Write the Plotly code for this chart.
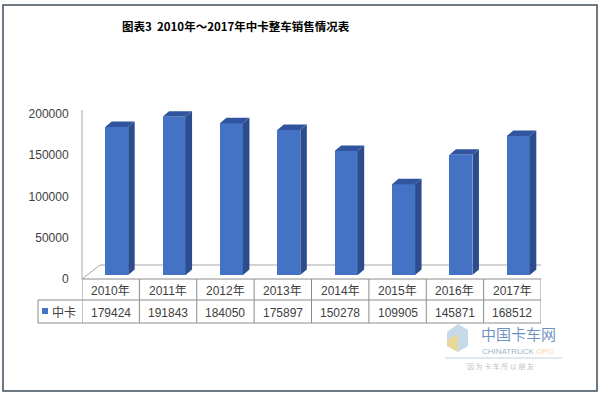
import plotly.graph_objects as go

# ---- data ----
years = ["2010年", "2011年", "2012年", "2013年", "2014年", "2015年", "2016年", "2017年"]
sales = [179424, 191843, 184050, 175897, 150278, 109905, 145871, 168512]
series_name = "中卡"
y_ticks = [0, 50000, 100000, 150000, 200000]
title_text = "图表3&nbsp;&nbsp;2010年～2017年中卡整车销售情况表"

# ---- geometry (pixels of the 600x395 canvas) ----
W, H = 600, 395
PL, PR, PT, PB = 82, 541, 100, 279          # plot area
n = len(years)
cat_px = (PR - PL) / n
ypx_per_unit = 0.000825
y_max = (PB - PT) / ypx_per_unit


def px(x):
    return (x - PL) / (PR - PL)


def py(y):
    return (PB - y) / (PB - PT)


FRONT = "#4472C4"
SIDE = "#2B4C8D"
TOP = "#30559E"
TXT = "#404040"
GRID = "#A6A6A6"
FONT = "Liberation Sans, Noto Sans CJK SC, sans-serif"
CJK = "Noto Sans CJK SC, sans-serif"

idx = list(range(n))
base_off = 4 / ypx_per_unit          # front face sits slightly above the floor edge
bar_w = 23 / cat_px
bar_off = 6 / cat_px - bar_w / 2     # perspective shift of the front face
dx = 6.5 / cat_px
dy = 5.5 / ypx_per_unit

fig = go.Figure()

# side faces and top faces built from values
sx, sy, tx, ty = [], [], [], []
for i, v in zip(idx, sales):
    xl = i + bar_off
    xr = xl + bar_w
    b = base_off
    t = base_off + v
    sx += [xr, xr + dx, xr + dx, xr, xr, None]
    sy += [b, b + dy, t + dy, t, b, None]
    tx += [xl, xl + dx, xr + dx, xr, xl, None]
    ty += [t, t + dy, t + dy, t, t, None]

fig.add_trace(go.Scatter(x=sx, y=sy, mode="lines", fill="toself", fillcolor=SIDE,
                         line=dict(width=0, color=SIDE), hoverinfo="skip", showlegend=False))
fig.add_trace(go.Scatter(x=tx, y=ty, mode="lines", fill="toself", fillcolor=TOP,
                         line=dict(width=0, color=TOP), hoverinfo="skip", showlegend=False))
fig.add_trace(go.Bar(x=idx, y=sales, base=[base_off] * n, width=bar_w, offset=bar_off,
                     marker=dict(color=FRONT, line=dict(width=0)), name=series_name,
                     showlegend=False))

shapes = []
# floor (3D base)
bdx = 18 / cat_px
bdx_r = 21 / cat_px
bdy = 14 / ypx_per_unit
shapes.append(dict(type="line", xref="x", yref="y", x0=-0.5, y0=0, x1=-0.5 + bdx, y1=bdy,
                   line=dict(color=GRID, width=1), layer="below"))
shapes.append(dict(type="line", xref="x", yref="y", x0=-0.5 + bdx, y0=bdy, x1=n - 0.5 + bdx_r, y1=bdy,
                   line=dict(color=GRID, width=1), layer="below"))
shapes.append(dict(type="line", xref="x", yref="y", x0=n - 0.5 + bdx_r, y0=bdy, x1=n - 0.5, y1=0,
                   line=dict(color=GRID, width=1), layer="below"))
# vertical axis line
shapes.append(dict(type="line", xref="paper", yref="y", x0=0, x1=0, y0=0, y1=y_ticks[-1] + 4 / ypx_per_unit,
                   line=dict(color=GRID, width=1)))

# data table
TBL = "#8C8C8C"
r0, r1, r2 = 279, 300, 323
shapes.append(dict(type="line", xref="paper", yref="paper", x0=px(PL), x1=px(PR), y0=py(r0), y1=py(r0),
                   line=dict(color=TBL, width=1)))
for yy in (r1, r2):
    shapes.append(dict(type="line", xref="paper", yref="paper", x0=px(38), x1=px(PR), y0=py(yy), y1=py(yy),
                       line=dict(color=TBL, width=1)))
for i in range(n + 1):
    shapes.append(dict(type="line", xref="x", yref="paper", x0=i - 0.5, x1=i - 0.5, y0=py(r0), y1=py(r2),
                       line=dict(color=TBL, width=1)))
shapes.append(dict(type="line", xref="paper", yref="paper", x0=px(38), x1=px(38), y0=py(r1), y1=py(r2),
                   line=dict(color=TBL, width=1)))
# legend key square
shapes.append(dict(type="rect", xref="paper", yref="paper", x0=px(42), x1=px(48), y0=py(314), y1=py(308),
                   fillcolor=FRONT, line=dict(width=0)))
# watermark logo (decoration)
def path(points):
    return "M " + " L ".join(f"{px(a)},{py(b)}" for a, b in points) + " Z"

shapes.append(dict(type="path", xref="paper", yref="paper",
                   path=path([(447, 332), (458, 324), (468, 330), (468, 346), (458, 352), (447, 346)]),
                   fillcolor="rgba(150,185,215,0.55)", line=dict(width=0)))
shapes.append(dict(type="path", xref="paper", yref="paper",
                   path=path([(447, 340), (458, 334), (458, 352), (447, 346)]),
                   fillcolor="rgba(245,215,120,0.7)", line=dict(width=0)))
shapes.append(dict(type="line", xref="paper", yref="paper", x0=px(445), x1=px(562), y0=py(358), y1=py(358),
                   line=dict(color="rgba(150,180,200,0.6)", width=1)))
# outer border
shapes.append(dict(type="rect", xref="paper", yref="paper", x0=px(3), x1=px(597), y0=py(391), y1=py(5),
                   line=dict(color="#3F4E5C", width=1.5)))

ann = []
for i, (yr, v) in enumerate(zip(years, sales)):
    ann.append(dict(x=i, y=py((r0 + r1) / 2 + 1), xref="x", yref="paper", text=yr, showarrow=False,
                    font=dict(family=FONT, size=12, color=TXT), xanchor="center", yanchor="middle"))
    ann.append(dict(x=i, y=py((r1 + r2) / 2 + 1), xref="x", yref="paper", text=str(v), showarrow=False,
                    font=dict(family=FONT, size=12, color=TXT), xanchor="center", yanchor="middle"))
ann.append(dict(x=px(50), y=py((r1 + r2) / 2), xref="paper", yref="paper", text=series_name,
                showarrow=False, font=dict(family=CJK, size=12, color=TXT), xanchor="left", yanchor="middle"))
ann.append(dict(x=px(120), y=py(26), xref="paper", yref="paper", text="<b>" + title_text + "</b>",
                showarrow=False, font=dict(family=CJK, size=11.5, color="#000000"),
                xanchor="left", yanchor="middle"))
# watermark
ann.append(dict(x=px(518), y=py(333), xref="paper", yref="paper", text="中国卡车网", showarrow=False,
                font=dict(family=CJK, size=15, color="rgba(60,110,175,0.75)"), xanchor="center", yanchor="middle"))
ann.append(dict(x=px(518), y=py(351), xref="paper", yref="paper",
                text="CHINATRUCK<span style='color:rgba(240,160,60,0.6)'>.ORG</span>", showarrow=False,
                font=dict(family=FONT, size=8, color="rgba(120,150,180,0.75)"), xanchor="center", yanchor="middle"))
ann.append(dict(x=px(500), y=py(366), xref="paper", yref="paper", text="因 为 卡 车 所 以 朋 友",
                showarrow=False, font=dict(family=CJK, size=7, color="rgba(140,150,160,0.6)"),
                xanchor="center", yanchor="middle"))

fig.update_layout(
    width=W, height=H,
    margin=dict(l=PL, r=W - PR, t=PT, b=H - PB, pad=0),
    paper_bgcolor="white", plot_bgcolor="rgba(0,0,0,0)",
    showlegend=False,
    xaxis=dict(range=[-0.5, n - 0.5], showticklabels=False, showgrid=False, zeroline=False,
               showline=False, ticks="", fixedrange=True),
    yaxis=dict(range=[0, y_max], tickvals=y_ticks, ticktext=[str(t) for t in y_ticks],
               showgrid=False, zeroline=False, showline=False, ticks="outside", ticklen=0,
               ticklabelstandoff=10, tickfont=dict(family=FONT, size=12, color=TXT), fixedrange=True),
    shapes=shapes, annotations=ann, bargap=0,
)

fig.write_html("out.html")
